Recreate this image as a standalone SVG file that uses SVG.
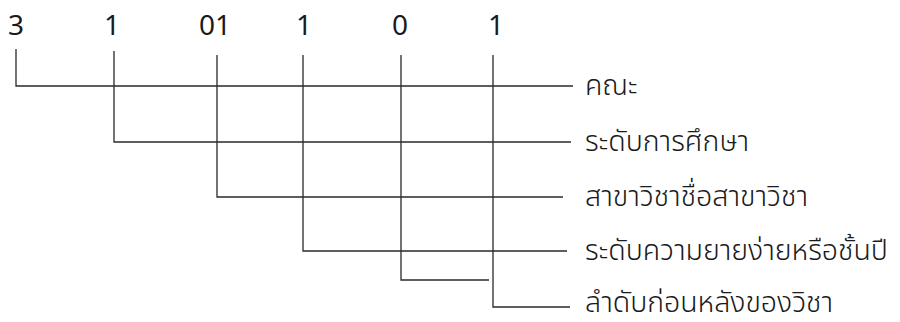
<svg xmlns="http://www.w3.org/2000/svg" width="900" height="322" viewBox="0 0 900 322">
<style>
.d{font-family:"Noto Sans","Liberation Sans",sans-serif;font-size:28px;fill:#1a1a1a;text-anchor:middle}
.t{font-family:"Noto Sans Thai","Noto Sans",sans-serif;font-size:28.5px;font-weight:300;fill:#1a1a1a}
.c{fill:none;stroke:#2a2a2a;stroke-width:1.3}
</style>
<rect width="900" height="322" fill="#fff"/>
<g id="digits">
<g id="d1"><text class="d" x="16" y="35">3</text></g>
<g id="d2"><text class="d" x="112" y="35">1</text></g>
<g id="d3"><text class="d" x="215" y="35">01</text></g>
<g id="d4"><text class="d" x="304" y="35">1</text></g>
<g id="d5"><text class="d" x="400" y="35">0</text></g>
<g id="d6"><text class="d" x="496" y="35">1</text></g>
</g>
<g id="labels">
<g id="l1"><text class="t" x="585" y="95">คณะ</text></g>
<g id="l2"><text class="t" x="585" y="151">ระดับการศึกษา</text></g>
<g id="l3"><text class="t" x="585" y="206">สาขาวิชาชื่อสาขาวิชา</text></g>
<g id="l4"><text class="t" x="585" y="260">ระดับความยายง่ายหรือชั้นปี</text></g>
<g id="l5"><text class="t" x="585" y="312">ลำดับก่อนหลังของวิชา</text></g>
</g>
<g id="connectors">
<path class="c" d="M16 49V86H573"/>
<path class="c" d="M114 51V142H571"/>
<path class="c" d="M217 55V197H563"/>
<path class="c" d="M303 55V251H567"/>
<path class="c" d="M401 55V280H489"/>
<path class="c" d="M493 55V307H570"/>
</g>
</svg>
